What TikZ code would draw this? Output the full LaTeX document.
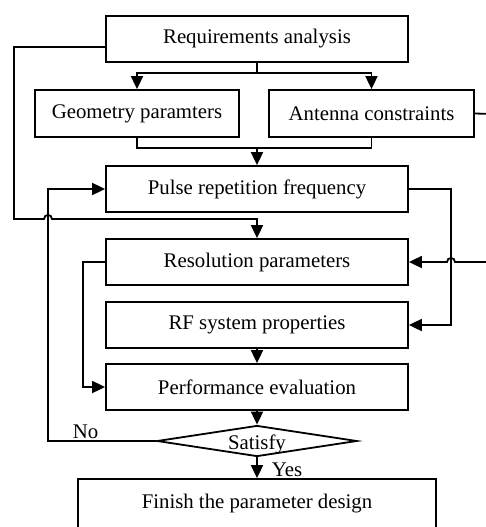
\documentclass[tikz,border=0pt]{standalone}
\usepackage{fontspec}
\setmainfont{Liberation Serif}
\usetikzlibrary{arrows.meta,shapes.geometric}
\begin{document}
\begin{tikzpicture}[x=0.5pt,y=-0.5pt,
  box/.style={draw,line width=0.9pt,minimum height=23pt,inner sep=0pt,font=\fontsize{10.4}{12}\selectfont},
  arr/.style={line width=0.9pt,-{Triangle[length=6.5pt,width=6pt]}},
  ln/.style={line width=0.9pt},
  lbl/.style={font=\fontsize{10.4}{12}\selectfont,inner sep=0pt}]
\useasboundingbox (0,0) rectangle (486,527);
% boxes
\node[box,minimum width=151pt] (ra) at (257,39) {Requirements analysis};
\node[box,minimum width=102pt,minimum height=23.5pt] (geo) at (137,113.5) {Geometry paramters};
\node[box,minimum width=102.5pt,minimum height=23.5pt] (ant) at (371.5,113.5) {Antenna constraints};
\node[box,minimum width=151pt] (prf) at (257,189) {Pulse repetition frequency};
\node[box,minimum width=151pt] (res) at (257,262) {Resolution parameters};
\node[box,minimum width=151pt] (rf) at (257,325) {RF system properties};
\node[box,minimum width=151pt] (perf) at (257,387) {Performance evaluation};
\node[diamond,draw,line width=0.9pt,inner sep=0pt,minimum width=100pt,minimum height=15.5pt] (sat) at (257,441) {};
\node[lbl] (sattxt) at (257,444) {Satisfy};
\node[box,minimum width=179pt,minimum height=25pt] (fin) at (257,504) {Finish the parameter design};
% labels
\node[lbl] (no) at (85.5,431.5) {No};
\node[lbl] (yes) at (287,470) {Yes};
% coordinates
\coordinate (j1) at (257,73);
\coordinate (j2) at (257,148);
\coordinate (raw) at ([yshift=-4pt]ra.west);
\coordinate (lc) at (14,219);
\coordinate (nc) at (48,189);
\coordinate (pr) at (451,189);
\coordinate (ae) at (494,114);
\coordinate (rc) at (83,262);
% connectors
\draw[ln] (ra.south) -- (j1);
\draw[arr] (j1) -| (geo.north);
\draw[arr] (j1) -| (ant.north);
\draw[ln] (geo.south) |- (j2) -| (ant.south);
\draw[arr] (j2) -- (prf.north);
\draw[arr] (raw) -| (lc) -- (44,219) .. controls (44,213.7) and (52,213.7) .. (52,219) -| (res.north);
\draw[arr] (sat.west) -| (nc) -- (prf.west);
\draw[arr] (prf.east) -- (pr) |- (rf.east);
\draw[arr] (ant.east) -- (ae) |- (455,262) .. controls (455,256.7) and (447,256.7) .. (447,262) -- (res.east);
\draw[arr] (res.west) -- (rc) |- (perf.west);
\draw[arr] (rf.south) -- (perf.north);
\draw[arr] (perf.south) -- (sat.north);
\draw[arr] (sat.south) -- (fin.north);
\end{tikzpicture}
\end{document}
